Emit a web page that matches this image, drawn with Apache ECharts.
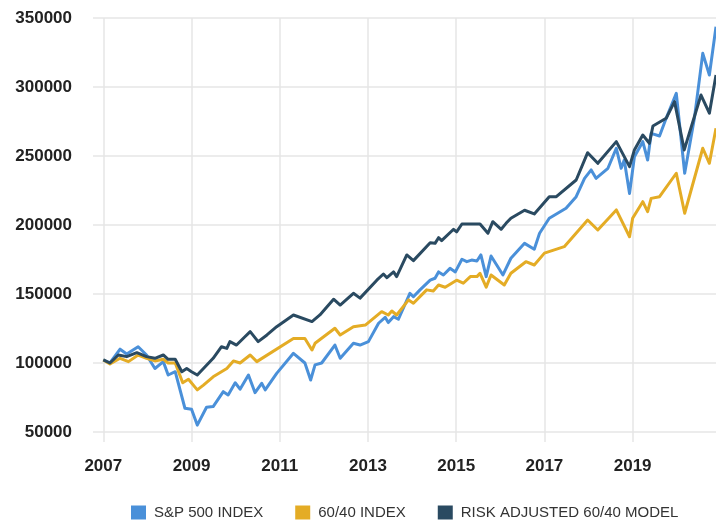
<!DOCTYPE html>
<html>
<head>
<meta charset="utf-8">
<script src="https://cdn.jsdelivr.net/npm/echarts@6/dist/echarts.min.js"></script>
<style>
html,body{margin:0;padding:0;background:#fff;}
#chart{width:716px;height:520px;}
</style>
</head>
<body>
<div id="chart"></div>
<script>
// ---- data ----
const seriesNames = ['S&P 500 INDEX', '60/40 INDEX', 'RISK ADJUSTED 60/40 MODEL'];
const xTicks = [2007, 2009, 2011, 2013, 2015, 2017, 2019];
const yTicks = [50000, 100000, 150000, 200000, 250000, 300000, 350000];

const spYears = [2007.00,2007.15,2007.38,2007.53,2007.79,2007.98,2008.17,2008.36,2008.47,2008.63,2008.85,2009.00,2009.13,2009.34,2009.49,2009.72,2009.83,2009.99,2010.10,2010.29,2010.44,2010.59,2010.67,2010.93,2011.31,2011.57,2011.70,2011.80,2011.95,2012.25,2012.37,2012.67,2012.82,2013.01,2013.24,2013.39,2013.46,2013.58,2013.69,2013.95,2014.03,2014.18,2014.41,2014.52,2014.60,2014.71,2014.86,2014.98,2015.13,2015.24,2015.35,2015.47,2015.56,2015.68,2015.79,2016.06,2016.24,2016.55,2016.77,2016.89,2017.11,2017.49,2017.72,2017.91,2018.06,2018.17,2018.44,2018.63,2018.74,2018.81,2018.93,2019.04,2019.23,2019.34,2019.42,2019.61,2019.76,2019.99,2020.18,2020.40,2020.59,2020.74,2020.89];
const spValues = [102200,100000,110000,106500,111800,105800,96000,101000,91300,93700,67200,66500,55000,67900,68400,79200,76800,85700,81000,91300,78500,85300,80500,92500,107000,100000,87700,98600,100000,113000,103400,114300,113000,115500,128800,133100,129300,133600,131700,150500,148000,153000,160000,161400,166000,163800,168600,166000,175200,173400,174600,173900,178300,162600,177500,163800,175900,186700,182400,194000,204900,212100,220500,233800,239900,233800,241100,255600,241100,247100,222900,249500,260400,247100,266400,264500,277300,295400,237500,277300,324400,308700,343700];

const balYears = [2007.00,2007.15,2007.38,2007.57,2007.79,2007.98,2008.17,2008.36,2008.47,2008.63,2008.80,2008.93,2009.13,2009.27,2009.49,2009.80,2009.95,2010.10,2010.33,2010.48,2011.31,2011.57,2011.73,2011.80,2012.25,2012.37,2012.67,2012.94,2013.31,2013.46,2013.54,2013.65,2013.92,2014.03,2014.33,2014.48,2014.60,2014.75,2015.01,2015.16,2015.32,2015.47,2015.54,2015.68,2015.79,2016.09,2016.24,2016.58,2016.77,2017.00,2017.45,2017.98,2018.21,2018.63,2018.93,2019.00,2019.23,2019.34,2019.42,2019.61,2019.99,2020.18,2020.59,2020.74,2020.89];
const balValues = [102200,99300,103400,101000,105800,103400,101500,102700,100000,100000,85700,88200,80500,84000,90000,96000,101500,100000,105800,101000,117800,117800,109400,114300,125200,120300,126300,127500,137200,134800,137700,134800,145700,143300,153000,152200,156500,154900,160000,157800,162600,162600,165000,155000,163800,156500,165000,173400,171000,179600,184300,203600,196400,210900,191500,204900,216900,209700,219300,220500,237500,208500,255600,244700,270100];

const riskYears = [2007.00,2007.15,2007.34,2007.53,2007.76,2007.98,2008.17,2008.36,2008.47,2008.63,2008.78,2008.89,2009.00,2009.13,2009.27,2009.49,2009.68,2009.80,2009.87,2010.02,2010.21,2010.33,2010.51,2010.71,2010.93,2011.31,2011.73,2011.91,2012.22,2012.37,2012.67,2012.82,2013.20,2013.35,2013.43,2013.58,2013.65,2013.88,2014.03,2014.41,2014.52,2014.60,2014.67,2014.94,2015.01,2015.13,2015.54,2015.72,2015.83,2016.02,2016.13,2016.24,2016.55,2016.77,2017.11,2017.27,2017.72,2017.98,2018.21,2018.63,2018.93,2019.04,2019.23,2019.38,2019.46,2019.76,2019.95,2020.17,2020.55,2020.74,2020.89];
const riskValues = [102200,100000,105800,104600,107500,104600,103400,105800,102700,102700,93700,96000,93700,91300,96000,103400,111800,110600,115500,113000,119000,122700,115500,120300,126300,134800,130000,134800,146200,142000,150500,147000,160000,164500,161800,166000,162600,178300,174200,187200,186700,190800,188700,196900,195000,200700,200700,194000,202400,196900,201200,204900,210700,208000,220500,220500,232600,252400,244700,260400,242300,254400,265200,259200,271700,277300,289400,254400,294200,281000,308700];

const colors = ['#4A90D9', '#E4AC25', '#2A4A61'];

function pairs(xs, ys) { return xs.map((x, i) => [x, ys[i]]); }

const chart = echarts.init(document.getElementById('chart'), null, {renderer: 'canvas'});
const font = "'Liberation Sans', Arial, Helvetica, sans-serif";

chart.setOption({
  animation: false,
  color: colors,
  grid: {left: 93, right: 0, top: 18, bottom: 78, containLabel: false},
  legend: {
    left: 131, top: 505, padding: 0,
    itemWidth: 15, itemHeight: 14, itemGap: 32,
    icon: 'rect',
    textStyle: {fontFamily: font, fontSize: 15, color: '#333', padding: [0, 0, 0, 3]},
    data: seriesNames
  },
  xAxis: {
    type: 'value',
    min: 2006.766, max: 2020.89,
    axisLine: {show: false},
    axisTick: {show: false, customValues: xTicks},
    axisLabel: {customValues: xTicks, fontFamily: font, fontSize: 17, fontWeight: 'bold', color: '#222', margin: 16,
      formatter: v => String(Math.round(v))},
    splitLine: {show: true, lineStyle: {color: '#e6e6e6', width: 1.5}}
  },
  yAxis: {
    type: 'value',
    min: 42750, max: 350000,
    axisLine: {show: false},
    axisTick: {show: false, customValues: yTicks},
    axisLabel: {customValues: yTicks, fontFamily: font, fontSize: 17, fontWeight: 'bold', color: '#222', margin: 21,
      formatter: v => String(Math.round(v))},
    splitLine: {show: true, lineStyle: {color: '#e6e6e6', width: 1.5}}
  },
  series: [
    {name: seriesNames[0], type: 'line', data: pairs(spYears, spValues), symbol: 'none', lineStyle: {width: 3, join: 'round'}, z: 2},
    {name: seriesNames[1], type: 'line', data: pairs(balYears, balValues), symbol: 'none', lineStyle: {width: 3, join: 'round'}, z: 3},
    {name: seriesNames[2], type: 'line', data: pairs(riskYears, riskValues), symbol: 'none', lineStyle: {width: 3, join: 'round'}, z: 4}
  ]
});
</script>
</body>
</html>
